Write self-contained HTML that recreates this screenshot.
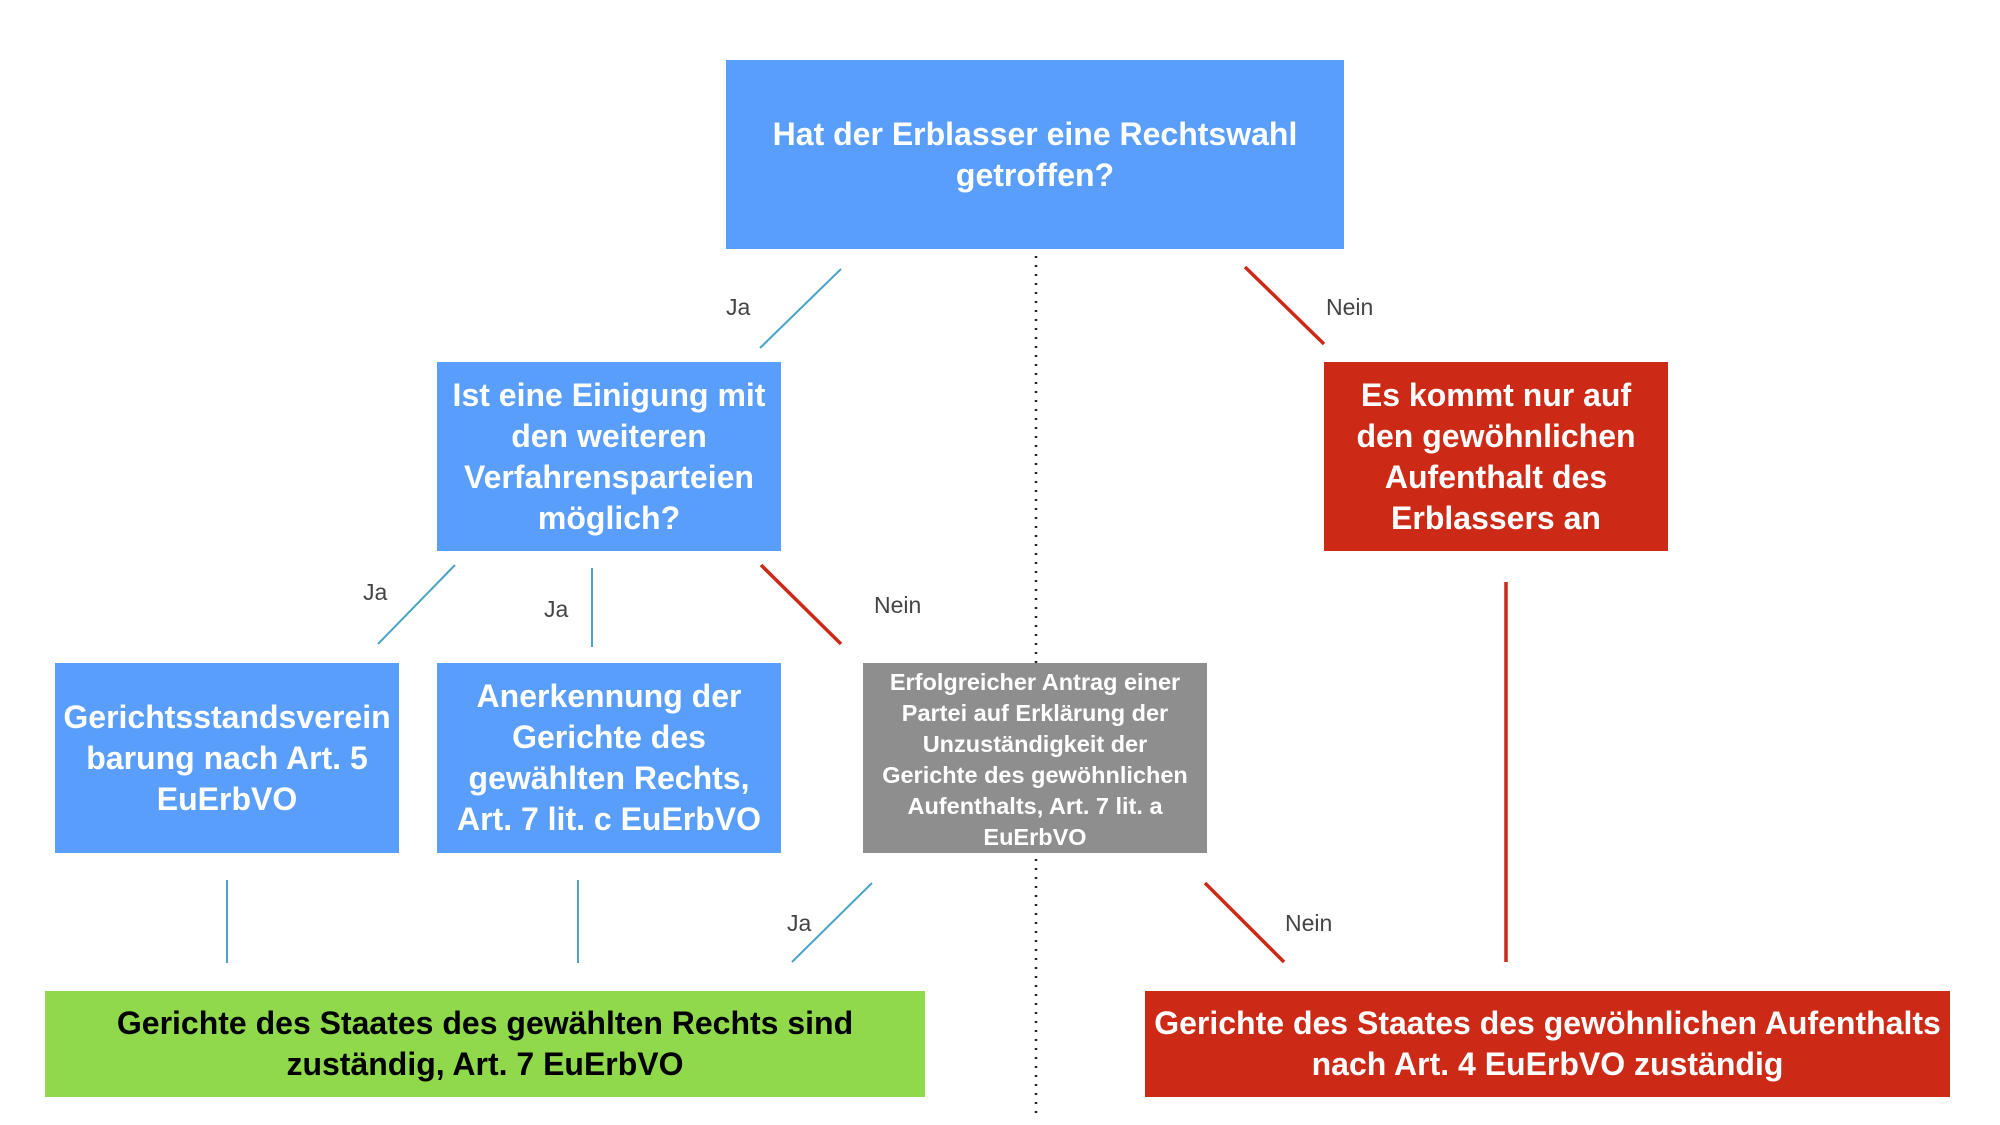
<!DOCTYPE html>
<html><head><meta charset="utf-8"><style>
body{margin:0;width:2000px;height:1125px;background:#fff;position:relative;overflow:hidden;font-family:"Liberation Sans",sans-serif}
.b{position:absolute;display:flex;align-items:center;justify-content:center;text-align:center;color:#fff;font-weight:bold;font-size:32px;line-height:41px;box-sizing:border-box}
.bl{background:#5a9efc}.rd{background:#cc2a16}
.l{position:absolute;font-size:23px;color:#444}
svg{position:absolute;left:0;top:0}
</style></head><body>
<svg width="2000" height="1125">
<line x1="1036" y1="256" x2="1036" y2="1118" stroke="#222" stroke-width="2.5" stroke-dasharray="2,7"/>
<g stroke="#4aa3c8" stroke-width="2">
<line x1="841" y1="269" x2="760" y2="348"/>
<line x1="455" y1="565" x2="378" y2="644"/>
<line x1="592" y1="568" x2="592" y2="647"/>
<line x1="872" y1="883" x2="792" y2="962"/>
<line x1="227" y1="880" x2="227" y2="963"/>
<line x1="578" y1="880" x2="578" y2="963"/>
</g>
<g stroke="#cc2a16" stroke-width="3.5">
<line x1="1245" y1="267" x2="1324" y2="344"/>
<line x1="761" y1="565" x2="841" y2="644"/>
<line x1="1205" y1="883" x2="1284" y2="962"/>
<line x1="1506" y1="582" x2="1506" y2="962"/>
</g>
</svg>
<div class="b bl" style="left:726px;top:60px;width:618px;height:189px">Hat der Erblasser eine Rechtswahl<br>getroffen?</div>
<div class="b bl" style="left:437px;top:362px;width:344px;height:189px">Ist eine Einigung mit<br>den weiteren<br>Verfahrensparteien<br>möglich?</div>
<div class="b rd" style="left:1324px;top:362px;width:344px;height:189px">Es kommt nur auf<br>den gewöhnlichen<br>Aufenthalt des<br>Erblassers an</div>
<div class="b bl" style="left:55px;top:663px;width:344px;height:190px">Gerichtsstandsverein<br>barung nach Art. 5<br>EuErbVO</div>
<div class="b bl" style="left:437px;top:663px;width:344px;height:190px">Anerkennung der<br>Gerichte des<br>gewählten Rechts,<br>Art. 7 lit. c EuErbVO</div>
<div class="b" style="left:863px;top:663px;width:344px;height:190px;background:#8e8e8e;font-size:23.5px;line-height:31px;padding-top:4px">Erfolgreicher Antrag einer<br>Partei auf Erklärung der<br>Unzuständigkeit der<br>Gerichte des gewöhnlichen<br>Aufenthalts, Art. 7 lit. a<br>EuErbVO</div>
<div class="b" style="left:45px;top:991px;width:880px;height:106px;background:#8fd94b;color:#000">Gerichte des Staates des gewählten Rechts sind<br>zuständig, Art. 7 EuErbVO</div>
<div class="b rd" style="left:1145px;top:991px;width:805px;height:106px">Gerichte des Staates des gewöhnlichen Aufenthalts<br>nach Art. 4 EuErbVO zuständig</div>
<div class="l" style="left:726px;top:294px">Ja</div>
<div class="l" style="left:1326px;top:294px">Nein</div>
<div class="l" style="left:363px;top:579px">Ja</div>
<div class="l" style="left:544px;top:596px">Ja</div>
<div class="l" style="left:874px;top:592px">Nein</div>
<div class="l" style="left:787px;top:910px">Ja</div>
<div class="l" style="left:1285px;top:910px">Nein</div>
</body></html>
